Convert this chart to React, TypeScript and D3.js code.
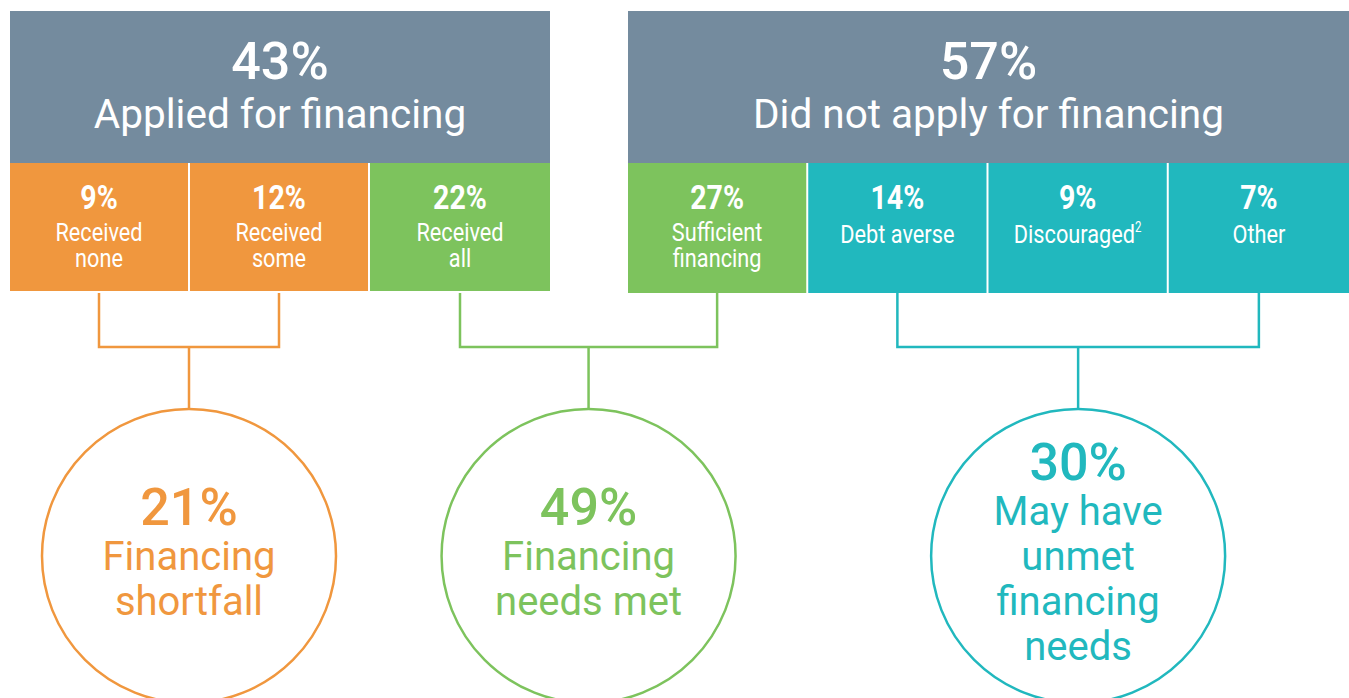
import React from 'react';
import * as d3 from 'd3';

// top-level split
const groupKeys = ['applied', 'notApplied'];
const groupShares = [43, 57];
const groupLabels = ['Applied for financing', 'Did not apply for financing'];

// second row
const segmentKeys = ['none', 'some', 'all', 'sufficient', 'debtAverse', 'discouraged', 'other'];
const segmentGroups = ['applied', 'applied', 'applied', 'notApplied', 'notApplied', 'notApplied', 'notApplied'];
const segmentShares = [9, 12, 22, 27, 14, 9, 7];
const segmentLabels = [
  ['Received', 'none'],
  ['Received', 'some'],
  ['Received', 'all'],
  ['Sufficient', 'financing'],
  ['Debt averse'],
  ['Discouraged'],
  ['Other'],
];
const segmentNotes = ['', '', '', '', '', '2', ''];
const segmentOutcomes = ['shortfall', 'shortfall', 'met', 'met', 'unmet', 'unmet', 'unmet'];

// outcomes (circles)
const outcomeKeys = ['shortfall', 'met', 'unmet'];
const outcomeShares = [21, 49, 30];
const outcomeLabels = [
  ['Financing', 'shortfall'],
  ['Financing', 'needs met'],
  ['May have', 'unmet', 'financing', 'needs'],
];

const W = 1349;
const H = 698;
const HEADER_COLOR = '#748b9e';
const outcomeColor = d3.scaleOrdinal<string, string>()
  .domain(outcomeKeys)
  .range(['#f0973e', '#7dc35d', '#21b8be']);

const groupExtent: Record<string, [number, number]> = {
  applied: [10, 550],
  notApplied: [628, 1349],
};

const FONT = 'Roboto, "Noto Sans", sans-serif';
const GAP = 2;

export default function App() {
  const headerTop = 11;
  const headerBottom = 163;
  const boxBottom = 293;
  const bracketY = 347;
  const circleR = 147;
  const circleCy = 556;

  const bands: Record<string, d3.ScaleBand<string>> = {};
  groupKeys.forEach((g) => {
    bands[g] = d3.scaleBand<string>()
      .domain(segmentKeys.filter((_, i) => segmentGroups[i] === g))
      .range(groupExtent[g]);
  });

  const segX = (i: number) => bands[segmentGroups[i]](segmentKeys[i])!;
  const segW = (i: number) => {
    const g = segmentGroups[i];
    const dom = bands[g].domain();
    const last = dom[dom.length - 1] === segmentKeys[i];
    return bands[g].bandwidth() - (last ? 0 : GAP);
  };
  const segCx = (i: number) => segX(i) + segW(i) / 2;

  const brackets = outcomeKeys.map((o) => {
    const idx = segmentKeys.map((_, i) => i).filter((i) => segmentOutcomes[i] === o);
    const x0 = segCx(idx[0]);
    const x1 = segCx(idx[idx.length - 1]);
    return { o, x0, x1, mid: (x0 + x1) / 2 };
  });

  return (
    <svg width={W} height={H} style={{ position: 'absolute', left: 0, top: 0, background: '#fff' }} fontFamily={FONT}>
      {/* headers */}
      {groupKeys.map((g, i) => {
        const [x0, x1] = groupExtent[g];
        const cx = (x0 + x1) / 2;
        return (
          <g key={g}>
            <rect x={x0} y={headerTop} width={x1 - x0} height={headerBottom - headerTop} fill={HEADER_COLOR} />
            <text x={cx} y={79} textAnchor="middle" fill="#fff" fontSize={52} fontWeight={500}>
              {groupShares[i]}%
            </text>
            <text x={cx} y={128} textAnchor="middle" fill="#fff" fontSize={40.5}>
              {groupLabels[i]}
            </text>
          </g>
        );
      })}

      {/* segment boxes */}
      {segmentKeys.map((k, i) => {
        const x = segX(i);
        const w = segW(i);
        const cx = x + w / 2;
        const bottom = segmentGroups[i] === 'applied' ? 291 : boxBottom;
        const lines = segmentLabels[i];
        const lineY = lines.length === 2 ? [241, 267] : [243];
        return (
          <g key={k}>
            <rect x={x} y={headerBottom} width={w} height={bottom - headerBottom} fill={outcomeColor(segmentOutcomes[i])} />
            <text transform={`translate(${cx},209) scale(0.84,1)`} textAnchor="middle" fill="#fff" fontSize={34} fontWeight={700}>
              {segmentShares[i]}%
            </text>
            {lines.map((l, j) => (
              <text key={j} transform={`translate(${cx},${lineY[j]}) scale(0.82,1)`} textAnchor="middle" fill="#fff" fontSize={26.5}>
                {l}
                {segmentNotes[i] && j === lines.length - 1 ? (
                  <tspan fontSize={14} dy={-11}>{segmentNotes[i]}</tspan>
                ) : null}
              </text>
            ))}
          </g>
        );
      })}

      {/* brackets, stems and circles */}
      {brackets.map((b, i) => {
        const color = outcomeColor(b.o);
        const lines = outcomeLabels[i];
        const n = lines.length;
        return (
          <g key={b.o} fill="none" stroke={color} strokeWidth={2.5}>
            <path d={`M${b.x0},${boxBottom}V${bracketY}H${b.x1}V${boxBottom}`} />
            <path d={`M${b.mid},${bracketY}V${circleCy - circleR}`} />
            <circle cx={b.mid} cy={circleCy} r={circleR} fill="#fff" />
            <g stroke="none" fill={color} textAnchor="middle">
              {[`${outcomeShares[i]}%`, ...lines].map((t, j) => (
                <text
                  key={j}
                  x={b.mid}
                  y={circleCy + 14 + (j - n / 2) * 45}
                  fontSize={j === 0 ? 52 : 40}
                  fontWeight={j === 0 ? 500 : 400}
                >
                  {t}
                </text>
              ))}
            </g>
          </g>
        );
      })}
    </svg>
  );
}
